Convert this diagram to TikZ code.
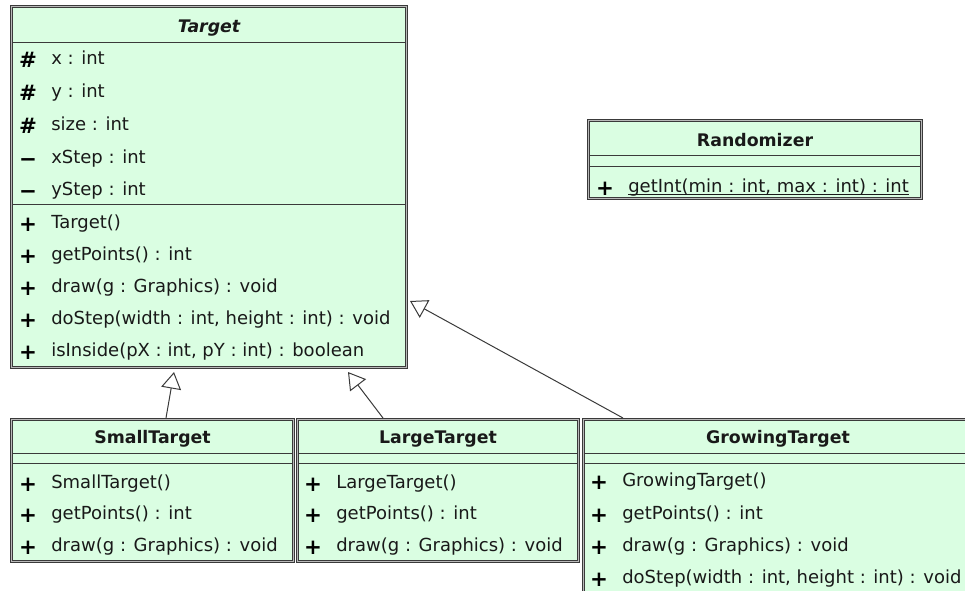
\documentclass[tikz,border=0pt]{standalone}
\usepackage{fontspec}
\setmainfont{DejaVu Sans}
\usetikzlibrary{arrows.meta,calc}
\definecolor{umlfill}{RGB}{218,254,226}
\definecolor{umlline}{RGB}{58,58,58}
\definecolor{umltext}{RGB}{25,25,25}
\begin{document}
\begin{tikzpicture}[x=0.75pt,y=-0.75pt,
  classbox/.style={draw=umlline, line width=0.55pt, double=gray!55, double distance=1.1pt,
    fill=umlfill, inner sep=0pt, outer sep=0pt, anchor=north west},
  sepline/.style={draw=umlline, line width=0.75pt, shorten >=0.8pt, shorten <=0.8pt},
  txt/.style={anchor=base west, inner sep=0pt, font=\fontsize{13.5}{16}\selectfont, text=umltext},
  hdr/.style={anchor=base, inner sep=0pt, font=\fontsize{13}{16}\selectfont\bfseries, text=umltext},
  sym/.style={anchor=base, inner sep=0pt, font=\fontsize{16}{18}\selectfont\bfseries, text=black},
  uline/.style={draw=umltext, line width=0.6pt},
  inherit/.style={draw=umlline, line width=0.75pt,
    -{Triangle[open,length=12.5pt,width=15pt,line width=0.75pt]}}]

\useasboundingbox (0,0) rectangle (965,590);
\clip (0,0) rectangle (965,590);

% ---------- Target ----------
\node[classbox, minimum width=296.25pt, minimum height=270.75pt] (target) at (11.5,6.5) {};
\draw[sepline] ($(target.north west)+(0,35.5)$) -- ($(target.north east)+(0,35.5)$);
\draw[sepline] ($(target.north west)+(0,197.5)$) -- ($(target.north east)+(0,197.5)$);
\node[hdr, font=\fontsize{13}{16}\selectfont\bfseries\itshape] (targetname) at (209,32) {Target};
\node[sym] (ts1) at (28,67) {\#};  \node[txt] (tt1) at (51,64) {x : int};
\node[sym] (ts2) at (28,100) {\#}; \node[txt] (tt2) at (51,97) {y : int};
\node[sym] (ts3) at (28,133) {\#}; \node[txt] (tt3) at (51,130) {size : int};
\node[sym] (ts4) at (28,166) {−};  \node[txt] (tt4) at (51,163) {xStep : int};
\node[sym] (ts5) at (28,198) {−};  \node[txt] (tt5) at (51,195) {yStep : int};
\node[sym] (ts6) at (28,231) {+};  \node[txt] (tt6) at (51,228) {Target()};
\node[sym] (ts7) at (28,263) {+};  \node[txt] (tt7) at (51,260) {getPoints() : int};
\node[sym] (ts8) at (28,295) {+};  \node[txt] (tt8) at (51,292) {draw(g : Graphics) : void};
\node[sym] (ts9) at (28,327) {+};  \node[txt] (tt9) at (51,324) {doStep(width : int, height : int) : void};
\node[sym] (ts10) at (28,359) {+}; \node[txt] (tt10) at (51,356) {isInside(pX : int, pY : int) : boolean};

% ---------- Randomizer ----------
\node[classbox, minimum width=249.75pt, minimum height=58.5pt] (rand) at (588.5,120.5) {};
\draw[sepline] ($(rand.north west)+(0,34.5)$) -- ($(rand.north east)+(0,34.5)$);
\draw[sepline] ($(rand.north west)+(0,45.5)$) -- ($(rand.north east)+(0,45.5)$);
\node[hdr] (randname) at (755,146) {Randomizer};
\node[sym] (rs1) at (605,195) {+};
\node[txt] (rt1) at (628,192) {getInt(min : int, max : int) : int};
\draw[uline] ($(rt1.base west)+(0,2.5)$) -- ($(rt1.base east)+(0,2.5)$);

% ---------- SmallTarget ----------
\node[classbox, minimum width=211.5pt, minimum height=106.5pt] (small) at (11.5,419.5) {};
\draw[sepline] ($(small.north west)+(0,33.5)$) -- ($(small.north east)+(0,33.5)$);
\draw[sepline] ($(small.north west)+(0,43.5)$) -- ($(small.north east)+(0,43.5)$);
\node[hdr] (smallname) at (152.5,443) {SmallTarget};
\node[sym] (ss1) at (28,491) {+}; \node[txt] (st1) at (51,488) {SmallTarget()};
\node[sym] (ss2) at (28,522) {+}; \node[txt] (st2) at (51,519) {getPoints() : int};
\node[sym] (ss3) at (28,554) {+}; \node[txt] (st3) at (51,551) {draw(g : Graphics) : void};

% ---------- LargeTarget ----------
\node[classbox, minimum width=210.75pt, minimum height=106.5pt] (large) at (297.5,419.5) {};
\draw[sepline] ($(large.north west)+(0,33.5)$) -- ($(large.north east)+(0,33.5)$);
\draw[sepline] ($(large.north west)+(0,43.5)$) -- ($(large.north east)+(0,43.5)$);
\node[hdr] (largename) at (438,443) {LargeTarget};
\node[sym] (ls1) at (313,491) {+}; \node[txt] (lt1) at (336,488) {LargeTarget()};
\node[sym] (ls2) at (313,522) {+}; \node[txt] (lt2) at (336,519) {getPoints() : int};
\node[sym] (ls3) at (313,554) {+}; \node[txt] (lt3) at (336,551) {draw(g : Graphics) : void};

% ---------- GrowingTarget ----------
\node[classbox, minimum width=293.6pt, minimum height=150pt] (grow) at (583.5,419.5) {};
\draw[sepline] ($(grow.north west)+(0,33.5)$) -- ($(grow.north east)+(0,33.5)$);
\draw[sepline] ($(grow.north west)+(0,43.5)$) -- ($(grow.north east)+(0,43.5)$);
\node[hdr] (growname) at (778,443) {GrowingTarget};
\node[sym] (gs1) at (599,489) {+}; \node[txt] (gt1) at (622,486) {GrowingTarget()};
\node[sym] (gs2) at (599,522) {+}; \node[txt] (gt2) at (622,519) {getPoints() : int};
\node[sym] (gs3) at (599,554) {+}; \node[txt] (gt3) at (622,551) {draw(g : Graphics) : void};
\node[sym] (gs4) at (599,586) {+}; \node[txt] (gt4) at (622,583) {doStep(width : int, height : int) : void};

% ---------- Generalisations ----------
\coordinate (tipS) at ($(target.south)+(-35,4.5)$);
\coordinate (tipL) at ($(target.south)+(139,4.5)$);
\coordinate (tipG) at ($(target.north east)+(3.5,294.5)$);
\coordinate (tailS) at ($(small.north)+(13.5,-1.5)$);
\coordinate (tailL) at ($(large.north)+(-55,-1.5)$);
\coordinate (tailG) at ($(grow.north west)+(39.5,-1.5)$);
\draw[inherit] (tailS) -- (tipS);
\draw[inherit] (tailL) -- (tipL);
\draw[inherit] (tailG) -- (tipG);
\end{tikzpicture}
\end{document}
